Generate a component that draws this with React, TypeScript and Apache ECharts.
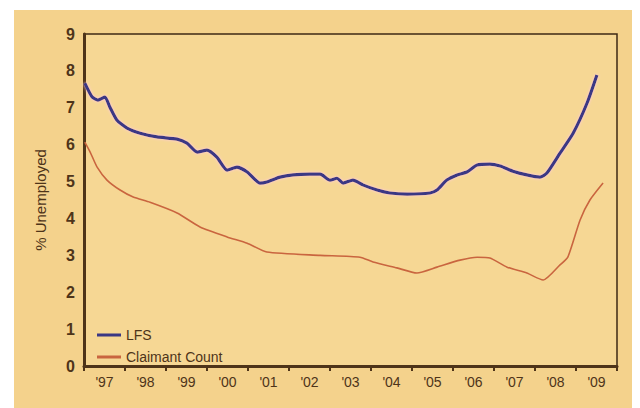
import React, { useEffect, useRef } from "react";
import * as echarts from "echarts";

const yearLabels = ["'97", "'98", "'99", "'00", "'01", "'02", "'03", "'04", "'05", "'06", "'07", "'08", "'09"];

const lfsYears = [1997.02, 1997.2, 1997.34, 1997.51, 1997.63, 1997.8, 1998.05, 1998.37, 1998.78, 1999.27, 1999.51, 1999.76, 2000.0, 2000.24, 2000.49, 2000.73, 2000.98, 2001.29, 2001.46, 2001.78, 2002.1, 2002.51, 2002.76, 2003.0, 2003.17, 2003.32, 2003.56, 2003.8, 2004.15, 2004.46, 2004.88, 2005.44, 2005.61, 2005.85, 2006.1, 2006.34, 2006.59, 2006.9, 2007.15, 2007.46, 2007.8, 2008.12, 2008.29, 2008.61, 2008.93, 2009.27, 2009.51];
const lfsValues = [7.67, 7.29, 7.21, 7.29, 7.02, 6.67, 6.45, 6.31, 6.21, 6.15, 6.04, 5.8, 5.85, 5.66, 5.31, 5.39, 5.26, 4.96, 4.99, 5.12, 5.18, 5.2, 5.2, 5.04, 5.09, 4.96, 5.04, 4.91, 4.77, 4.69, 4.66, 4.69, 4.77, 5.04, 5.18, 5.26, 5.45, 5.47, 5.42, 5.28, 5.18, 5.12, 5.23, 5.77, 6.31, 7.13, 7.89];

const ccYears = [1997.02, 1997.15, 1997.32, 1997.56, 1997.88, 1998.2, 1998.61, 1999.27, 1999.83, 2000.49, 2000.98, 2001.46, 2002.76, 2003.73, 2004.05, 2004.63, 2005.12, 2005.61, 2006.17, 2006.59, 2006.9, 2007.32, 2007.8, 2008.2, 2008.61, 2008.8, 2009.1, 2009.34, 2009.66];
const ccValues = [6.07, 5.8, 5.39, 5.04, 4.77, 4.58, 4.44, 4.15, 3.77, 3.5, 3.33, 3.09, 3.0, 2.95, 2.82, 2.66, 2.52, 2.68, 2.87, 2.95, 2.93, 2.68, 2.52, 2.33, 2.74, 2.95, 3.96, 4.5, 4.96];

const yTicks = [0, 1, 2, 3, 4, 5, 6, 7, 8, 9];

const DARK = "#4e3419";
const BG = "#f4d28c";

export default function App() {
  const ref = useRef<HTMLDivElement>(null);
  useEffect(() => {
    document.body.style.margin = "0";
    document.body.style.background = "#ffffff";
    const chart = echarts.init(ref.current!, null, { renderer: "svg" });
    const font = "Liberation Sans";
    chart.setOption({
      animation: false,
      textStyle: { fontFamily: font },
      graphic: [
        {
          type: "rect",
          z: -10,
          shape: { x: 14, y: 10, width: 618, height: 398 },
          style: { fill: BG },
        },
      ],
      grid: {
        left: 84,
        top: 34,
        right: 23,
        bottom: 42,
        show: true,
        backgroundColor: "#f6d794",
        borderColor: "#3e2a14",
        borderWidth: 1.5,
      },
      legend: {
        left: 92,
        top: 323,
        orient: "vertical",
        icon: "rect",
        itemWidth: 24,
        itemHeight: 3,
        itemGap: 8,
        textStyle: { color: DARK, fontSize: 14, fontFamily: font },
        data: ["LFS", "Claimant Count"],
      },
      xAxis: [
        {
          type: "value",
          min: 1997,
          max: 2010,
          interval: 1,
          position: "bottom",
          axisLine: { show: true, lineStyle: { color: DARK, width: 3 } },
          axisTick: { show: true, length: 5, lineStyle: { color: DARK, width: 2 } },
          axisLabel: { show: false },
          splitLine: { show: false },
        },
        {
          type: "category",
          data: yearLabels,
          position: "bottom",
          boundaryGap: true,
          axisLine: { show: false },
          axisTick: { show: false },
          axisLabel: { color: DARK, fontSize: 14, margin: 9, fontFamily: font },
          splitLine: { show: false },
        },
      ],
      yAxis: {
        type: "value",
        min: yTicks[0],
        max: yTicks[yTicks.length - 1],
        interval: 1,
        name: "% Unemployed",
        nameLocation: "middle",
        nameGap: 36,
        nameTextStyle: { color: DARK, fontSize: 15, fontFamily: font },
        axisLine: { show: true, lineStyle: { color: DARK, width: 3 } },
        axisTick: { show: false },
        axisLabel: { color: DARK, fontSize: 16, fontWeight: "bold", margin: 9, fontFamily: font },
        splitLine: { show: false },
      },
      series: [
        {
          name: "LFS",
          type: "line",
          xAxisIndex: 0,
          showSymbol: false,
          smooth: 0.2,
          color: "#3a3784",
          lineStyle: { width: 3.2, color: "#3a3784", shadowColor: "rgba(255,200,230,0.9)", shadowBlur: 3 },
          data: lfsYears.map((x, i) => [x, lfsValues[i]]),
        },
        {
          name: "Claimant Count",
          type: "line",
          xAxisIndex: 0,
          showSymbol: false,
          smooth: 0.2,
          color: "#c9653f",
          lineStyle: { width: 1.6, color: "#c9653f" },
          data: ccYears.map((x, i) => [x, ccValues[i]]),
        },
      ],
    });
    return () => chart.dispose();
  }, []);
  return <div ref={ref} style={{ width: 640, height: 408 }} />;
}
